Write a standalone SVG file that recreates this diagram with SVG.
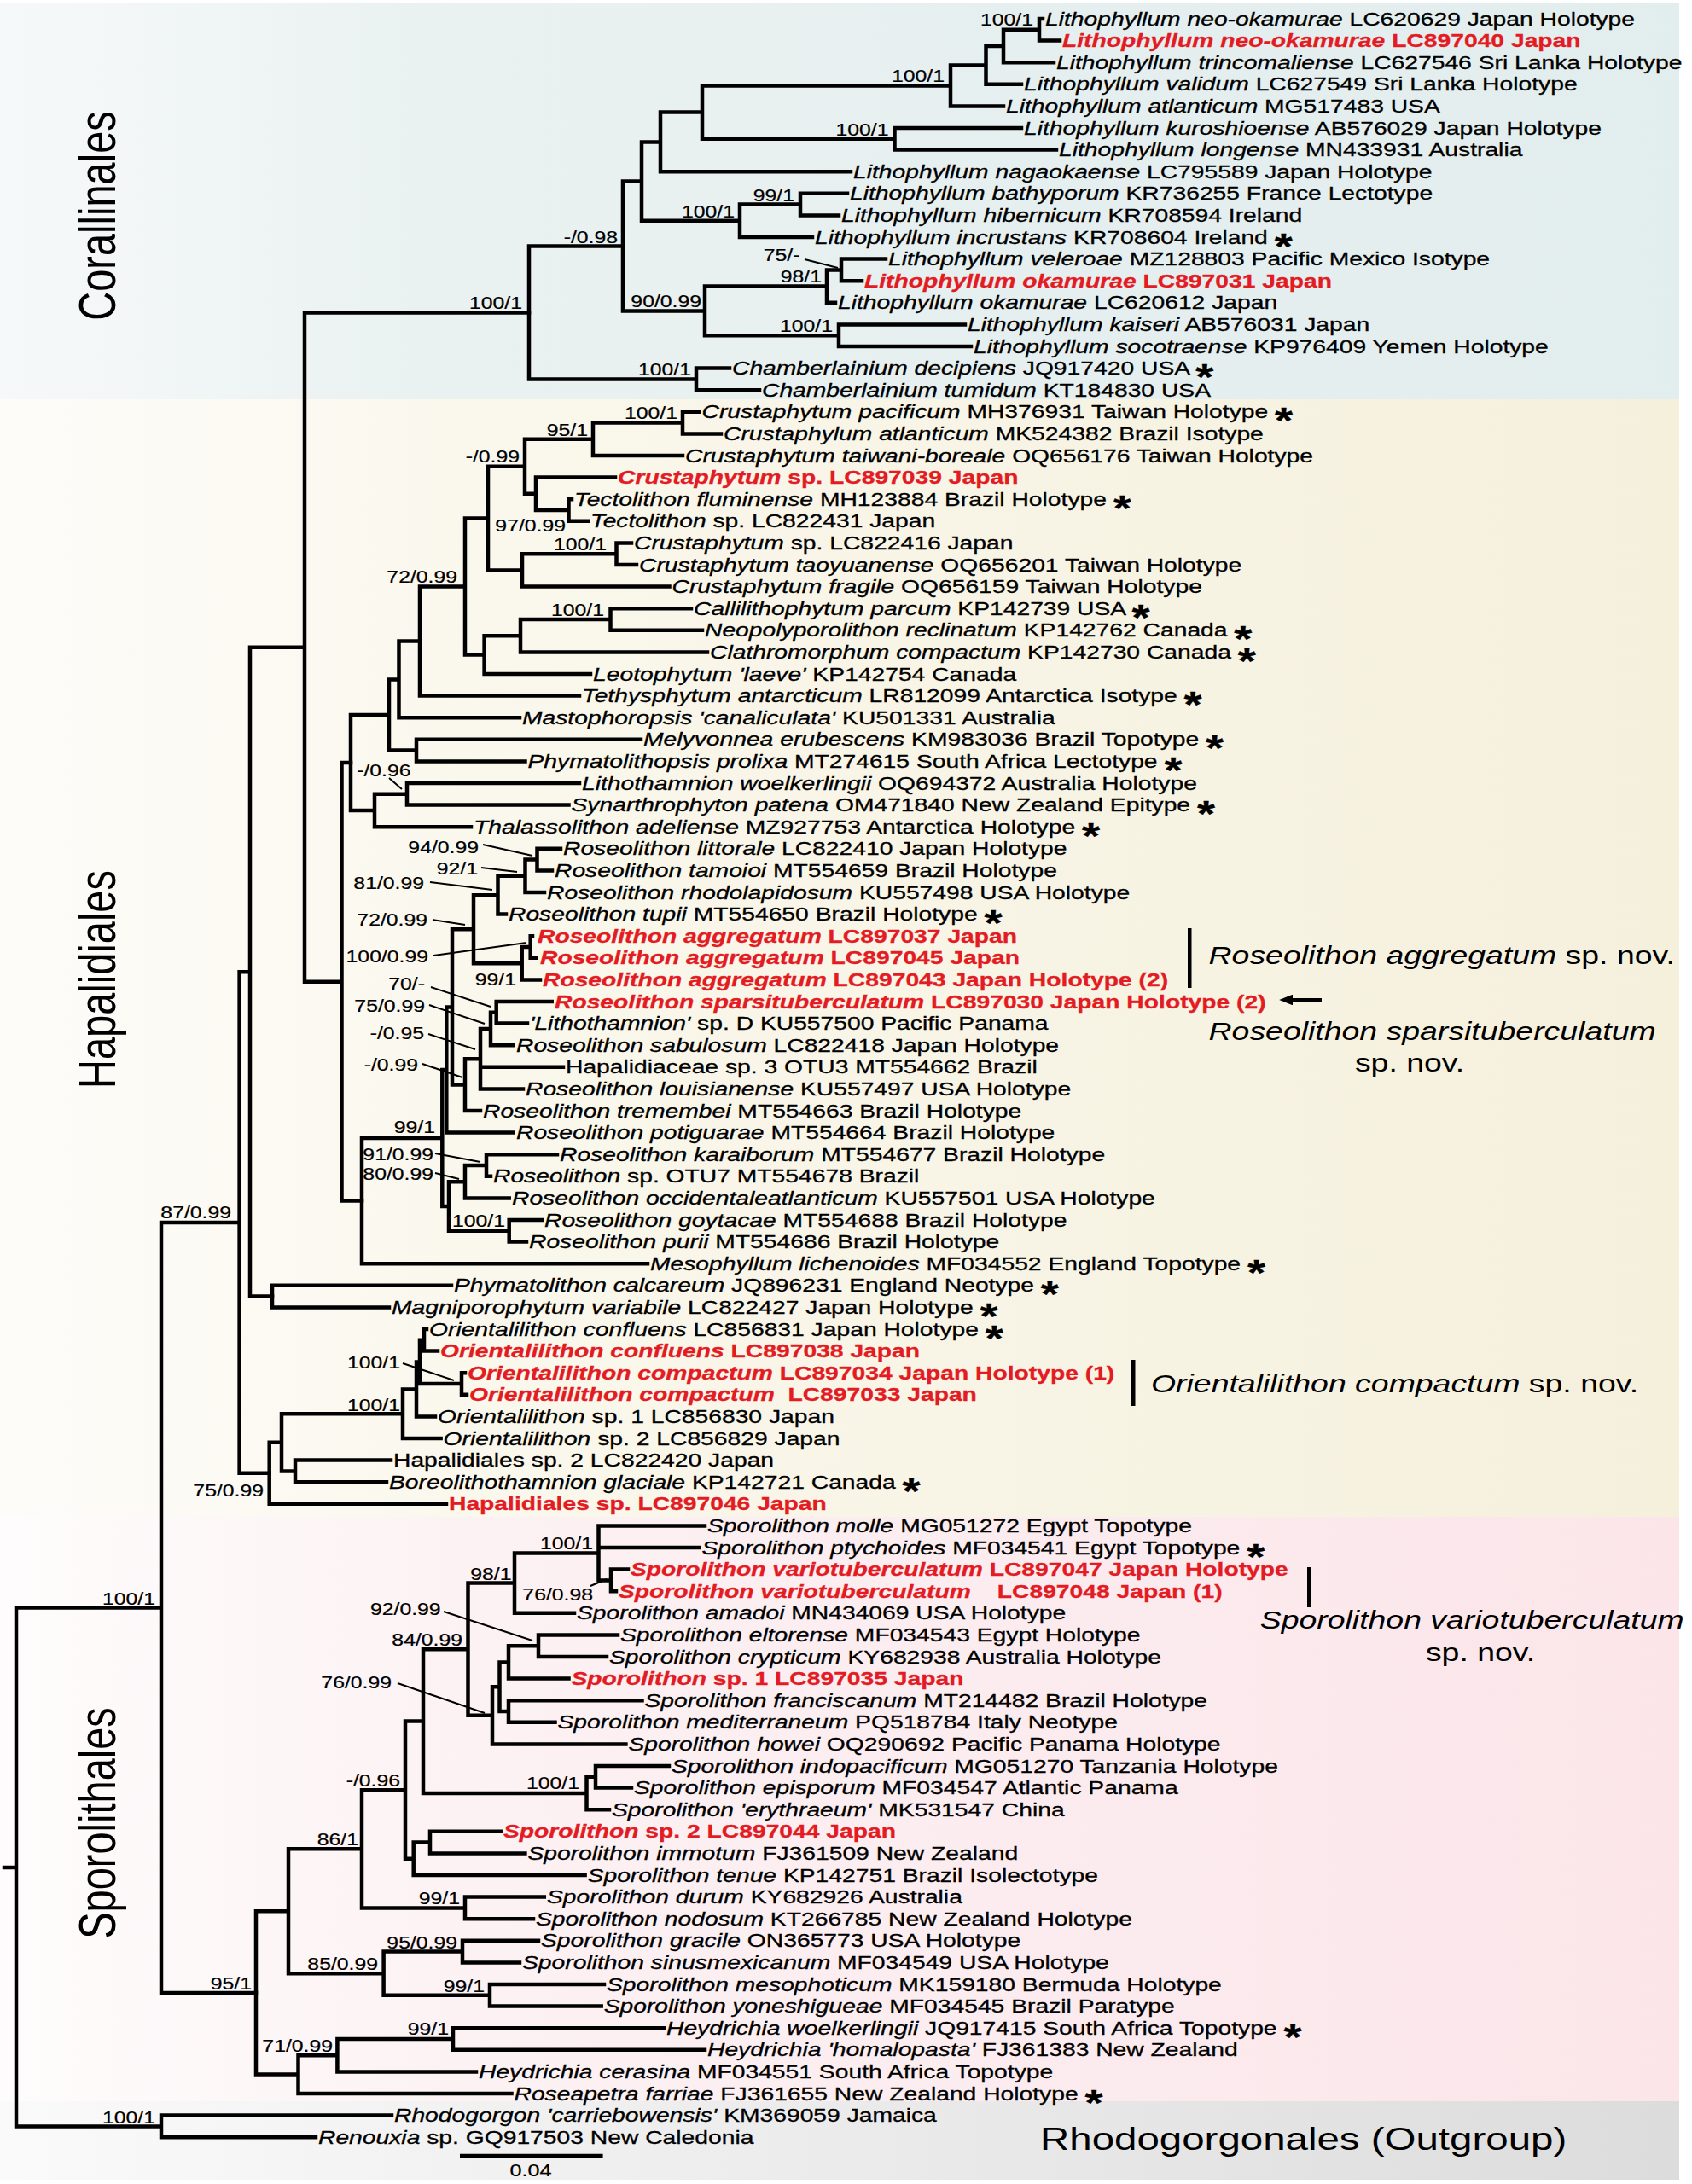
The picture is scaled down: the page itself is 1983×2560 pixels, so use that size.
<svg xmlns="http://www.w3.org/2000/svg" width="1983" height="2560" viewBox="0 0 1983 2560">
<style>
.t{font-family:"Liberation Sans",Arial,sans-serif;font-size:22px;fill:#000;stroke:#000;stroke-width:0.3}
.r{fill:#e31b23;stroke:#e31b23;font-weight:bold}
.i{font-style:italic}
.a{font-weight:bold;font-size:42px}
.s{font-family:"Liberation Sans",Arial,sans-serif;font-size:21px;fill:#000;stroke:#000;stroke-width:0.25;text-anchor:end}
.big{font-family:"Liberation Sans",Arial,sans-serif;fill:#000}
.br{fill:none;stroke:#000;stroke-width:4.5;stroke-linecap:square}
.ld{fill:none;stroke:#000;stroke-width:2}
</style>
<defs>
<linearGradient id="gC" x1="0" x2="1" y1="0" y2="0"><stop offset="0" stop-color="#f6f9f9"/><stop offset="0.25" stop-color="#eaf1f1"/><stop offset="1" stop-color="#e2eded"/></linearGradient>
<linearGradient id="gH" x1="0" x2="1" y1="0" y2="0"><stop offset="0" stop-color="#fdfcf9"/><stop offset="0.3" stop-color="#faf7ec"/><stop offset="1" stop-color="#f5f0dc"/></linearGradient>
<linearGradient id="gS" x1="0" x2="1" y1="0" y2="0"><stop offset="0" stop-color="#fefcfc"/><stop offset="0.3" stop-color="#fcf1f3"/><stop offset="1" stop-color="#fbe5e9"/></linearGradient>
<linearGradient id="gO" x1="0" x2="1" y1="0" y2="0"><stop offset="0" stop-color="#fafafa"/><stop offset="0.4" stop-color="#eeeeee"/><stop offset="1" stop-color="#dcdcdc"/></linearGradient>
<marker id="ah" viewBox="0 0 10 8" refX="2" refY="4" markerWidth="4" markerHeight="3.2" orient="auto" markerUnits="strokeWidth"><path d="M0,0 L10,4 L0,8 Z" fill="#000"/></marker>
</defs>
<rect width="1983" height="2560" fill="#fff"/>
<g id="backgrounds">
<rect x="0" y="4" width="1968" height="464" fill="url(#gC)"/>
<rect x="0" y="468" width="1968" height="1310" fill="url(#gH)"/>
<rect x="0" y="1778" width="1968" height="685" fill="url(#gS)"/>
<rect x="0" y="2463" width="1968" height="92" fill="url(#gO)"/>
</g>
<g id="connectors">
<path class="br" d="M620,288.5V444.4M620,288.5H730M620,444.4H816M816,431.6V457.2M816,431.6H855M816,457.2H890M730,212.6V364.4M730,212.6H752M730,364.4H826M752,166.4V258.8M752,166.4H774M752,258.8H867M774,131.6V201.2M774,131.6H823M774,201.2H997M823,100.4V162.8M823,100.4H1114M823,162.8H1048.5M1114,76.4V124.4M1114,76.4H1155.5M1114,124.4H1176M1155.5,54V98.8M1155.5,54H1176M1155.5,98.8H1197M1176,34.8V73.2M1176,34.8H1218M1176,73.2H1235M1218,22V47.6M1218,22H1222M1218,47.6H1242M1048.5,150V175.6M1048.5,150H1197M1048.5,175.6H1238M867,239.6V278M867,239.6H938M867,278H952M938,226.8V252.4M938,226.8H993M938,252.4H983M826,335.6V393.2M826,335.6H969M826,393.2H983M969,316.4V354.8M969,316.4H986M969,354.8H979M986,303.6V329.2M986,303.6H1038M986,329.2H1010M983,380.4V406M983,380.4H1131M983,406H1138"/>
<path class="br" d="M5,2189H19M19,1884.5V2492.4M19,1884.5H189M19,2492.4H189M189,2479.6V2505.2M189,2479.6H459M189,2505.2H370M189,1433V2336M189,1433H280.6M189,2336H300M280.6,1139.3V1726.8M280.6,1139.3H293M280.6,1726.8H315.7M293,758.7V1519.6M293,758.7H357M293,1519.6H319M357,366.5V1150.8M357,366.5H620M357,1150.8H400.5M400.5,894V1407.6M400.5,894H411M400.5,1407.6H424"/>
<path class="br" d="M411,838V950M411,838H456M411,950H439M456,796.4V879.6M456,796.4H467.5M456,879.6H488M467.5,751.6V841.2M467.5,751.6H492M467.5,841.2H609M492,687.6V815.6M492,687.6H545M492,815.6H679M545,607.6V767.6M545,607.6H572M545,767.6H567.6M572,546.8V668.4M572,546.8H615M572,668.4H612M615,514.8V578.8M615,514.8H695M615,578.8H628M695,495.6V534M695,495.6H800M695,534H800M800,482.8V508.4M800,482.8H819.5M800,508.4H845M628,559.6V598M628,559.6H721M628,598H666.5M666.5,585.2V610.8M666.5,585.2H670M666.5,610.8H689M612,649.2V687.6M612,649.2H722.5M612,687.6H784.5M722.5,636.4V662M722.5,636.4H740M722.5,662H746M567.6,745.2V790M567.6,745.2H610M567.6,790H692M610,726V764.4M610,726H715.5M610,764.4H829M715.5,713.2V738.8M715.5,713.2H810M715.5,738.8H823M488,866.8V892.4M488,866.8H751M488,892.4H615.5M439,930.8V969.2M439,930.8H477M439,969.2H552M477,918V943.6M477,918H679M477,943.6H666.5"/>
<path class="br" d="M424,1334V1481.2M424,1334H518.3M424,1481.2H759M518.3,1254V1414M518.3,1254H523.3M518.3,1414H526M523.3,1180.4V1327.6M523.3,1180.4H530M523.3,1327.6H601.7M530,1089.2V1271.6M530,1089.2H555M530,1271.6H545M555,1049.2V1129.2M555,1049.2H583.5M555,1129.2H611.7M583.5,1026.8V1071.6M583.5,1026.8H615.5M583.5,1071.6H593M615.5,1007.6V1046M615.5,1007.6H629.5M615.5,1046H638M629.5,994.8V1020.4M629.5,994.8H657M629.5,1020.4H647M611.7,1110V1148.4M611.7,1110H621.7M611.7,1148.4H633M621.7,1097.2V1122.8M621.7,1097.2H624M621.7,1122.8H628M545,1241.2V1302M545,1241.2H563M545,1302H563M563,1206V1276.4M563,1206H575M563,1250.8H660M563,1276.4H613M575,1186.8V1225.2M575,1186.8H581.7M575,1225.2H601.7M581.7,1174V1199.6M581.7,1174H646.7M581.7,1199.6H618M526,1385.2V1442.8M526,1385.2H545M526,1442.8H596.7M545,1366V1404.4M545,1366H570M545,1404.4H596.7M570,1353.2V1378.8M570,1353.2H653M570,1378.8H575M596.7,1430V1455.6M596.7,1430H635M596.7,1455.6H617"/>
<path class="br" d="M319,1506.8V1532.4M319,1506.8H529M319,1532.4H456M315.7,1690.8V1762.8M315.7,1690.8H330M315.7,1762.8H523M330,1657.2V1724.4M330,1657.2H472M330,1724.4H346M346,1711.6V1737.2M346,1711.6H458M346,1737.2H453M472,1628.4V1686M472,1628.4H488M472,1686H516.6M488,1596.4V1660.4M488,1596.4H492M488,1660.4H510M492,1570.8V1622M492,1570.8H497M492,1622H541M497,1558V1583.6M497,1558H500M497,1583.6H513M541,1609.2V1634.8M541,1609.2H545M541,1634.8H547"/>
<path class="br" d="M300,2240.3V2431.6M300,2240.3H338M300,2431.6H349.5M338,2167.3V2313.2M338,2167.3H424M338,2313.2H449.6M424,2098.2V2236.4M424,2098.2H475M424,2236.4H545M475,2017.6V2178.8M475,2017.6H496M475,2178.8H484.7M496,1933.2V2102M496,1933.2H548.5M496,2102H687.5M548.5,1855.6V2010.8M548.5,1855.6H603M548.5,2010.8H577M603,1820.4V1890.8M603,1820.4H701.5M603,1890.8H673M701.5,1788.4V1852.4M701.5,1788.4H826M701.5,1814H819.5M701.5,1852.4H716M716,1839.6V1865.2M716,1839.6H736M716,1865.2H722M577,1977.2V2044.4M577,1977.2H585.5M577,2044.4H733.4M585.5,1948.4V2006M585.5,1948.4H596M585.5,2006H596M596,1929.2V1967.6M596,1929.2H631M596,1967.6H666.5M631,1916.4V1942M631,1916.4H724M631,1942H711M596,1993.2V2018.8M596,1993.2H752.5M596,2018.8H650.5M687.5,2082.8V2121.2M687.5,2082.8H698M687.5,2121.2H714M698,2070V2095.6M698,2070H784M698,2095.6H740M484.7,2159.6V2198M484.7,2159.6H504M484.7,2198H685.6M504,2146.8V2172.4M504,2146.8H586.7M504,2172.4H615.4M545,2223.6V2249.2M545,2223.6H637.8M545,2249.2H625M449.6,2287.6V2338.8M449.6,2287.6H542M449.6,2338.8H574M542,2274.8V2300.4M542,2274.8H631M542,2300.4H609M574,2326V2351.6M574,2326H708M574,2351.6H704.7M349.5,2409.2V2454M349.5,2409.2H395.4M349.5,2454H599.5M395.4,2390V2428.4M395.4,2390H531M395.4,2428.4H558M531,2377.2V2402.8M531,2377.2H778M531,2402.8H826"/>
<path class="ld" d="M943,304L982,314M456,912L471,925M566,990L624,1003M564,1017L606,1022M504,1034L577,1043M507,1078L545,1084M508,1120L617,1105M505,1157L575,1180M503,1178L568,1200M502,1212L557,1230M495,1247L542,1263M510,1352L563,1362M510,1375L538,1382M472,1598L532,1618M692,1859L711,1851M520,1889L624,1923M466,1973L568,2008"/>
</g>
<g id="tips">
<g id="tip-1"><text class="t" transform="translate(1225,29.5) scale(1.285,1)"><tspan class="i">Lithophyllum neo-okamurae</tspan> LC620629 Japan Holotype</text></g>
<g id="tip-2"><text class="t r" transform="translate(1245,55.1) scale(1.285,1)"><tspan class="i">Lithophyllum neo-okamurae</tspan> LC897040 Japan</text></g>
<g id="tip-3"><text class="t" transform="translate(1238,80.7) scale(1.285,1)"><tspan class="i">Lithophyllum trincomaliense</tspan> LC627546 Sri Lanka Holotype</text></g>
<g id="tip-4"><text class="t" transform="translate(1200,106.3) scale(1.285,1)"><tspan class="i">Lithophyllum validum</tspan> LC627549 Sri Lanka Holotype</text></g>
<g id="tip-5"><text class="t" transform="translate(1179,131.9) scale(1.285,1)"><tspan class="i">Lithophyllum atlanticum</tspan> MG517483 USA</text></g>
<g id="tip-6"><text class="t" transform="translate(1200,157.5) scale(1.285,1)"><tspan class="i">Lithophyllum kuroshioense</tspan> AB576029 Japan Holotype</text></g>
<g id="tip-7"><text class="t" transform="translate(1241,183.1) scale(1.285,1)"><tspan class="i">Lithophyllum longense</tspan> MN433931 Australia</text></g>
<g id="tip-8"><text class="t" transform="translate(1000,208.7) scale(1.285,1)"><tspan class="i">Lithophyllum nagaokaense</tspan> LC795589 Japan Holotype</text></g>
<g id="tip-9"><text class="t" transform="translate(996,234.3) scale(1.285,1)"><tspan class="i">Lithophyllum bathyporum</tspan> KR736255 France Lectotype</text></g>
<g id="tip-10"><text class="t" transform="translate(986,259.9) scale(1.285,1)"><tspan class="i">Lithophyllum hibernicum</tspan> KR708594 Ireland</text></g>
<g id="tip-11"><text class="t" transform="translate(955,285.5) scale(1.285,1)"><tspan class="i">Lithophyllum incrustans</tspan> KR708604 Ireland <tspan class="a" dy="17">*</tspan></text></g>
<g id="tip-12"><text class="t" transform="translate(1041,311.1) scale(1.285,1)"><tspan class="i">Lithophyllum veleroae</tspan> MZ128803 Pacific Mexico Isotype</text></g>
<g id="tip-13"><text class="t r" transform="translate(1013,336.7) scale(1.285,1)"><tspan class="i">Lithophyllum okamurae</tspan> LC897031 Japan</text></g>
<g id="tip-14"><text class="t" transform="translate(982,362.3) scale(1.285,1)"><tspan class="i">Lithophyllum okamurae</tspan> LC620612 Japan</text></g>
<g id="tip-15"><text class="t" transform="translate(1134,387.9) scale(1.285,1)"><tspan class="i">Lithophyllum kaiseri</tspan> AB576031 Japan</text></g>
<g id="tip-16"><text class="t" transform="translate(1141,413.5) scale(1.285,1)"><tspan class="i">Lithophyllum socotraense</tspan> KP976409 Yemen Holotype</text></g>
<g id="tip-17"><text class="t" transform="translate(858,439.1) scale(1.285,1)"><tspan class="i">Chamberlainium decipiens</tspan> JQ917420 USA <tspan class="a" dy="17">*</tspan></text></g>
<g id="tip-18"><text class="t" transform="translate(893,464.7) scale(1.285,1)"><tspan class="i">Chamberlainium tumidum</tspan> KT184830 USA</text></g>
<g id="tip-19"><text class="t" transform="translate(822.5,490.3) scale(1.285,1)"><tspan class="i">Crustaphytum pacificum</tspan> MH376931 Taiwan Holotype <tspan class="a" dy="17">*</tspan></text></g>
<g id="tip-20"><text class="t" transform="translate(848,515.9) scale(1.285,1)"><tspan class="i">Crustaphylum atlanticum</tspan> MK524382 Brazil Isotype</text></g>
<g id="tip-21"><text class="t" transform="translate(803,541.5) scale(1.285,1)"><tspan class="i">Crustaphytum taiwani-boreale</tspan> OQ656176 Taiwan Holotype</text></g>
<g id="tip-22"><text class="t r" transform="translate(724,567.1) scale(1.285,1)"><tspan class="i">Crustaphytum</tspan> sp. LC897039 Japan</text></g>
<g id="tip-23"><text class="t" transform="translate(673,592.7) scale(1.285,1)"><tspan class="i">Tectolithon fluminense</tspan> MH123884 Brazil Holotype <tspan class="a" dy="17">*</tspan></text></g>
<g id="tip-24"><text class="t" transform="translate(692,618.3) scale(1.285,1)"><tspan class="i">Tectolithon</tspan> sp. LC822431 Japan</text></g>
<g id="tip-25"><text class="t" transform="translate(743,643.9) scale(1.285,1)"><tspan class="i">Crustaphytum</tspan> sp. LC822416 Japan</text></g>
<g id="tip-26"><text class="t" transform="translate(749,669.5) scale(1.285,1)"><tspan class="i">Crustaphytum taoyuanense</tspan> OQ656201 Taiwan Holotype</text></g>
<g id="tip-27"><text class="t" transform="translate(787.5,695.1) scale(1.285,1)"><tspan class="i">Crustaphytum fragile</tspan> OQ656159 Taiwan Holotype</text></g>
<g id="tip-28"><text class="t" transform="translate(813,720.7) scale(1.285,1)"><tspan class="i">Callilithophytum parcum</tspan> KP142739 USA <tspan class="a" dy="17">*</tspan></text></g>
<g id="tip-29"><text class="t" transform="translate(826,746.3) scale(1.285,1)"><tspan class="i">Neopolyporolithon reclinatum</tspan> KP142762 Canada <tspan class="a" dy="17">*</tspan></text></g>
<g id="tip-30"><text class="t" transform="translate(832,771.9) scale(1.285,1)"><tspan class="i">Clathromorphum compactum</tspan> KP142730 Canada <tspan class="a" dy="17">*</tspan></text></g>
<g id="tip-31"><text class="t" transform="translate(695,797.5) scale(1.285,1)"><tspan class="i">Leotophytum 'laeve'</tspan> KP142754 Canada</text></g>
<g id="tip-32"><text class="t" transform="translate(682,823.1) scale(1.285,1)"><tspan class="i">Tethysphytum antarcticum</tspan> LR812099 Antarctica Isotype <tspan class="a" dy="17">*</tspan></text></g>
<g id="tip-33"><text class="t" transform="translate(612,848.7) scale(1.285,1)"><tspan class="i">Mastophoropsis 'canaliculata'</tspan> KU501331 Australia</text></g>
<g id="tip-34"><text class="t" transform="translate(754,874.3) scale(1.285,1)"><tspan class="i">Melyvonnea erubescens</tspan> KM983036 Brazil Topotype <tspan class="a" dy="17">*</tspan></text></g>
<g id="tip-35"><text class="t" transform="translate(618.5,899.9) scale(1.285,1)"><tspan class="i">Phymatolithopsis prolixa</tspan> MT274615 South Africa Lectotype <tspan class="a" dy="17">*</tspan></text></g>
<g id="tip-36"><text class="t" transform="translate(682,925.5) scale(1.285,1)"><tspan class="i">Lithothamnion woelkerlingii</tspan> OQ694372 Australia Holotype</text></g>
<g id="tip-37"><text class="t" transform="translate(669.5,951.1) scale(1.285,1)"><tspan class="i">Synarthrophyton patena</tspan> OM471840 New Zealand Epitype <tspan class="a" dy="17">*</tspan></text></g>
<g id="tip-38"><text class="t" transform="translate(555,976.7) scale(1.285,1)"><tspan class="i">Thalassolithon adeliense</tspan> MZ927753 Antarctica Holotype <tspan class="a" dy="17">*</tspan></text></g>
<g id="tip-39"><text class="t" transform="translate(660,1002.3) scale(1.285,1)"><tspan class="i">Roseolithon littorale</tspan> LC822410 Japan Holotype</text></g>
<g id="tip-40"><text class="t" transform="translate(650,1027.9) scale(1.285,1)"><tspan class="i">Roseolithon tamoioi</tspan> MT554659 Brazil Holotype</text></g>
<g id="tip-41"><text class="t" transform="translate(641,1053.5) scale(1.285,1)"><tspan class="i">Roseolithon rhodolapidosum</tspan> KU557498 USA Holotype</text></g>
<g id="tip-42"><text class="t" transform="translate(596,1079.1) scale(1.285,1)"><tspan class="i">Roseolithon tupii</tspan> MT554650 Brazil Holotype <tspan class="a" dy="17">*</tspan></text></g>
<g id="tip-43"><text class="t r" transform="translate(630,1104.7) scale(1.285,1)"><tspan class="i">Roseolithon aggregatum</tspan> LC897037 Japan</text></g>
<g id="tip-44"><text class="t r" transform="translate(633,1130.3) scale(1.285,1)"><tspan class="i">Roseolithon aggregatum</tspan> LC897045 Japan</text></g>
<g id="tip-45"><text class="t r" transform="translate(636,1155.9) scale(1.285,1)"><tspan class="i">Roseolithon aggregatum</tspan> LC897043 Japan Holotype (2)</text></g>
<g id="tip-46"><text class="t r" transform="translate(650,1181.5) scale(1.285,1)"><tspan class="i">Roseolithon sparsituberculatum</tspan> LC897030 Japan Holotype (2)</text></g>
<g id="tip-47"><text class="t" transform="translate(621,1207.1) scale(1.285,1)"><tspan class="i">'Lithothamnion'</tspan> sp. D KU557500 Pacific Panama</text></g>
<g id="tip-48"><text class="t" transform="translate(605,1232.7) scale(1.285,1)"><tspan class="i">Roseolithon sabulosum</tspan> LC822418 Japan Holotype</text></g>
<g id="tip-49"><text class="t" transform="translate(663,1258.3) scale(1.285,1)">Hapalidiaceae sp. 3 OTU3 MT554662 Brazil</text></g>
<g id="tip-50"><text class="t" transform="translate(616,1283.9) scale(1.285,1)"><tspan class="i">Roseolithon louisianense</tspan> KU557497 USA Holotype</text></g>
<g id="tip-51"><text class="t" transform="translate(566,1309.5) scale(1.285,1)"><tspan class="i">Roseolithon tremembei</tspan> MT554663 Brazil Holotype</text></g>
<g id="tip-52"><text class="t" transform="translate(605,1335.1) scale(1.285,1)"><tspan class="i">Roseolithon potiguarae</tspan> MT554664 Brazil Holotype</text></g>
<g id="tip-53"><text class="t" transform="translate(656,1360.7) scale(1.285,1)"><tspan class="i">Roseolithon karaiborum</tspan> MT554677 Brazil Holotype</text></g>
<g id="tip-54"><text class="t" transform="translate(578,1386.3) scale(1.285,1)"><tspan class="i">Roseolithon</tspan> sp. OTU7 MT554678 Brazil</text></g>
<g id="tip-55"><text class="t" transform="translate(600,1411.9) scale(1.285,1)"><tspan class="i">Roseolithon occidentaleatlanticum</tspan> KU557501 USA Holotype</text></g>
<g id="tip-56"><text class="t" transform="translate(638,1437.5) scale(1.285,1)"><tspan class="i">Roseolithon goytacae</tspan> MT554688 Brazil Holotype</text></g>
<g id="tip-57"><text class="t" transform="translate(620,1463.1) scale(1.285,1)"><tspan class="i">Roseolithon purii</tspan> MT554686 Brazil Holotype</text></g>
<g id="tip-58"><text class="t" transform="translate(762,1488.7) scale(1.285,1)"><tspan class="i">Mesophyllum lichenoides</tspan> MF034552 England Topotype <tspan class="a" dy="17">*</tspan></text></g>
<g id="tip-59"><text class="t" transform="translate(532,1514.3) scale(1.285,1)"><tspan class="i">Phymatolithon calcareum</tspan> JQ896231 England Neotype <tspan class="a" dy="17">*</tspan></text></g>
<g id="tip-60"><text class="t" transform="translate(459,1539.9) scale(1.285,1)"><tspan class="i">Magniporophytum variabile</tspan> LC822427 Japan Holotype <tspan class="a" dy="17">*</tspan></text></g>
<g id="tip-61"><text class="t" transform="translate(503,1565.5) scale(1.285,1)"><tspan class="i">Orientalilithon confluens</tspan> LC856831 Japan Holotype <tspan class="a" dy="17">*</tspan></text></g>
<g id="tip-62"><text class="t r" transform="translate(516,1591.1) scale(1.285,1)"><tspan class="i">Orientalilithon confluens</tspan> LC897038 Japan</text></g>
<g id="tip-63"><text class="t r" transform="translate(548,1616.7) scale(1.285,1)"><tspan class="i">Orientalilithon compactum</tspan> LC897034 Japan Holotype (1)</text></g>
<g id="tip-64"><text class="t r" transform="translate(550,1642.3) scale(1.285,1)"><tspan class="i">Orientalilithon compactum</tspan><tspan dx="6"> LC897033 Japan</tspan></text></g>
<g id="tip-65"><text class="t" transform="translate(513,1667.9) scale(1.285,1)"><tspan class="i">Orientalilithon</tspan> sp. 1 LC856830 Japan</text></g>
<g id="tip-66"><text class="t" transform="translate(519.6,1693.5) scale(1.285,1)"><tspan class="i">Orientalilithon</tspan> sp. 2 LC856829 Japan</text></g>
<g id="tip-67"><text class="t" transform="translate(461,1719.1) scale(1.285,1)">Hapalidiales sp. 2 LC822420 Japan</text></g>
<g id="tip-68"><text class="t" transform="translate(456,1744.7) scale(1.285,1)"><tspan class="i">Boreolithothamnion glaciale</tspan> KP142721 Canada <tspan class="a" dy="17">*</tspan></text></g>
<g id="tip-69"><text class="t r" transform="translate(526,1770.3) scale(1.285,1)">Hapalidiales sp. LC897046 Japan</text></g>
<g id="tip-70"><text class="t" transform="translate(829,1795.9) scale(1.285,1)"><tspan class="i">Sporolithon molle</tspan> MG051272 Egypt Topotype</text></g>
<g id="tip-71"><text class="t" transform="translate(822.5,1821.5) scale(1.285,1)"><tspan class="i">Sporolithon ptychoides</tspan> MF034541 Egypt Topotype <tspan class="a" dy="17">*</tspan></text></g>
<g id="tip-72"><text class="t r" transform="translate(739,1847.1) scale(1.285,1)"><tspan class="i">Sporolithon variotuberculatum</tspan> LC897047 Japan Holotype</text></g>
<g id="tip-73"><text class="t r" transform="translate(725,1872.7) scale(1.285,1)"><tspan class="i">Sporolithon variotuberculatum</tspan><tspan dx="18"> LC897048 Japan (1)</tspan></text></g>
<g id="tip-74"><text class="t" transform="translate(676,1898.3) scale(1.285,1)"><tspan class="i">Sporolithon amadoi</tspan> MN434069 USA Holotype</text></g>
<g id="tip-75"><text class="t" transform="translate(727,1923.9) scale(1.285,1)"><tspan class="i">Sporolithon eltorense</tspan> MF034543 Egypt Holotype</text></g>
<g id="tip-76"><text class="t" transform="translate(714,1949.5) scale(1.285,1)"><tspan class="i">Sporolithon crypticum</tspan> KY682938 Australia Holotype</text></g>
<g id="tip-77"><text class="t r" transform="translate(669.5,1975.1) scale(1.285,1)"><tspan class="i">Sporolithon</tspan> sp. 1 LC897035 Japan</text></g>
<g id="tip-78"><text class="t" transform="translate(755.5,2000.7) scale(1.285,1)"><tspan class="i">Sporolithon franciscanum</tspan> MT214482 Brazil Holotype</text></g>
<g id="tip-79"><text class="t" transform="translate(653.5,2026.3) scale(1.285,1)"><tspan class="i">Sporolithon mediterraneum</tspan> PQ518784 Italy Neotype</text></g>
<g id="tip-80"><text class="t" transform="translate(736.4,2051.9) scale(1.285,1)"><tspan class="i">Sporolithon howei</tspan> OQ290692 Pacific Panama Holotype</text></g>
<g id="tip-81"><text class="t" transform="translate(787,2077.5) scale(1.285,1)"><tspan class="i">Sporolithon indopacificum</tspan> MG051270 Tanzania Holotype</text></g>
<g id="tip-82"><text class="t" transform="translate(743,2103.1) scale(1.285,1)"><tspan class="i">Sporolithon episporum</tspan> MF034547 Atlantic Panama</text></g>
<g id="tip-83"><text class="t" transform="translate(717,2128.7) scale(1.285,1)"><tspan class="i">Sporolithon 'erythraeum'</tspan> MK531547 China</text></g>
<g id="tip-84"><text class="t r" transform="translate(590,2154.3) scale(1.285,1)"><tspan class="i">Sporolithon</tspan> sp. 2 LC897044 Japan</text></g>
<g id="tip-85"><text class="t" transform="translate(618.4,2179.9) scale(1.285,1)"><tspan class="i">Sporolithon immotum</tspan> FJ361509 New Zealand</text></g>
<g id="tip-86"><text class="t" transform="translate(688.6,2205.5) scale(1.285,1)"><tspan class="i">Sporolithon tenue</tspan> KP142751 Brazil Isolectotype</text></g>
<g id="tip-87"><text class="t" transform="translate(641,2231.1) scale(1.285,1)"><tspan class="i">Sporolithon durum</tspan> KY682926 Australia</text></g>
<g id="tip-88"><text class="t" transform="translate(628,2256.7) scale(1.285,1)"><tspan class="i">Sporolithon nodosum</tspan> KT266785 New Zealand Holotype</text></g>
<g id="tip-89"><text class="t" transform="translate(634,2282.3) scale(1.285,1)"><tspan class="i">Sporolithon gracile</tspan> ON365773 USA Holotype</text></g>
<g id="tip-90"><text class="t" transform="translate(612,2307.9) scale(1.285,1)"><tspan class="i">Sporolithon sinusmexicanum</tspan> MF034549 USA Holotype</text></g>
<g id="tip-91"><text class="t" transform="translate(711,2333.5) scale(1.285,1)"><tspan class="i">Sporolithon mesophoticum</tspan> MK159180 Bermuda Holotype</text></g>
<g id="tip-92"><text class="t" transform="translate(707.7,2359.1) scale(1.285,1)"><tspan class="i">Sporolithon yoneshigueae</tspan> MF034545 Brazil Paratype</text></g>
<g id="tip-93"><text class="t" transform="translate(781,2384.7) scale(1.285,1)"><tspan class="i">Heydrichia woelkerlingii</tspan> JQ917415 South Africa Topotype <tspan class="a" dy="17">*</tspan></text></g>
<g id="tip-94"><text class="t" transform="translate(829,2410.3) scale(1.285,1)"><tspan class="i">Heydrichia 'homalopasta'</tspan> FJ361383 New Zealand</text></g>
<g id="tip-95"><text class="t" transform="translate(561,2435.9) scale(1.285,1)"><tspan class="i">Heydrichia cerasina</tspan> MF034551 South Africa Topotype</text></g>
<g id="tip-96"><text class="t" transform="translate(602.5,2461.5) scale(1.285,1)"><tspan class="i">Roseapetra farriae</tspan> FJ361655 New Zealand Holotype <tspan class="a" dy="17">*</tspan></text></g>
<g id="tip-97"><text class="t" transform="translate(462,2487.1) scale(1.285,1)"><tspan class="i">Rhodogorgon 'carriebowensis'</tspan> KM369059 Jamaica</text></g>
<g id="tip-98"><text class="t" transform="translate(373,2512.7) scale(1.285,1)"><tspan class="i">Renouxia</tspan> sp. GQ917503 New Caledonia</text></g>
</g>
<g id="support-values">
<text class="s" transform="translate(1211,30) scale(1.18,1)">100/1</text>
<text class="s" transform="translate(1107,96) scale(1.18,1)">100/1</text>
<text class="s" transform="translate(1041.5,158.5) scale(1.18,1)">100/1</text>
<text class="s" transform="translate(931,236) scale(1.18,1)">99/1</text>
<text class="s" transform="translate(861,255) scale(1.18,1)">100/1</text>
<text class="s" transform="translate(724,284.5) scale(1.18,1)">-/0.98</text>
<text class="s" transform="translate(937.5,306) scale(1.18,1)">75/-</text>
<text class="s" transform="translate(963,331) scale(1.18,1)">98/1</text>
<text class="s" transform="translate(822,360) scale(1.18,1)">90/0.99</text>
<text class="s" transform="translate(976,389) scale(1.18,1)">100/1</text>
<text class="s" transform="translate(612,362) scale(1.18,1)">100/1</text>
<text class="s" transform="translate(810,440) scale(1.18,1)">100/1</text>
<text class="s" transform="translate(794,491) scale(1.18,1)">100/1</text>
<text class="s" transform="translate(689,511) scale(1.18,1)">95/1</text>
<text class="s" transform="translate(609,542) scale(1.18,1)">-/0.99</text>
<text class="s" transform="translate(663,623) scale(1.18,1)">97/0.99</text>
<text class="s" transform="translate(711,645) scale(1.18,1)">100/1</text>
<text class="s" transform="translate(536,683) scale(1.18,1)">72/0.99</text>
<text class="s" transform="translate(708,722) scale(1.18,1)">100/1</text>
<text class="s" transform="translate(481.5,910) scale(1.18,1)">-/0.96</text>
<text class="s" transform="translate(561,1000) scale(1.18,1)">94/0.99</text>
<text class="s" transform="translate(560,1025) scale(1.18,1)">92/1</text>
<text class="s" transform="translate(497,1042) scale(1.18,1)">81/0.99</text>
<text class="s" transform="translate(501,1085) scale(1.18,1)">72/0.99</text>
<text class="s" transform="translate(502,1128) scale(1.18,1)">100/0.99</text>
<text class="s" transform="translate(605,1155) scale(1.18,1)">99/1</text>
<text class="s" transform="translate(498,1160) scale(1.18,1)">70/-</text>
<text class="s" transform="translate(498,1186) scale(1.18,1)">75/0.99</text>
<text class="s" transform="translate(497,1218) scale(1.18,1)">-/0.95</text>
<text class="s" transform="translate(490,1255) scale(1.18,1)">-/0.99</text>
<text class="s" transform="translate(510,1328) scale(1.18,1)">99/1</text>
<text class="s" transform="translate(508,1360) scale(1.18,1)">91/0.99</text>
<text class="s" transform="translate(508,1383) scale(1.18,1)">80/0.99</text>
<text class="s" transform="translate(592,1438) scale(1.18,1)">100/1</text>
<text class="s" transform="translate(271,1428) scale(1.18,1)">87/0.99</text>
<text class="s" transform="translate(469,1604) scale(1.18,1)">100/1</text>
<text class="s" transform="translate(469,1654) scale(1.18,1)">100/1</text>
<text class="s" transform="translate(309,1754) scale(1.18,1)">75/0.99</text>
<text class="s" transform="translate(182,1881) scale(1.18,1)">100/1</text>
<text class="s" transform="translate(695,1816) scale(1.18,1)">100/1</text>
<text class="s" transform="translate(695,1876) scale(1.18,1)">76/0.98</text>
<text class="s" transform="translate(599.5,1852) scale(1.18,1)">98/1</text>
<text class="s" transform="translate(516.6,1893) scale(1.18,1)">92/0.99</text>
<text class="s" transform="translate(542,1929) scale(1.18,1)">84/0.99</text>
<text class="s" transform="translate(459,1979) scale(1.18,1)">76/0.99</text>
<text class="s" transform="translate(679,2097) scale(1.18,1)">100/1</text>
<text class="s" transform="translate(469,2094) scale(1.18,1)">-/0.96</text>
<text class="s" transform="translate(420,2163) scale(1.18,1)">86/1</text>
<text class="s" transform="translate(539,2232) scale(1.18,1)">99/1</text>
<text class="s" transform="translate(536,2284) scale(1.18,1)">95/0.99</text>
<text class="s" transform="translate(443,2309) scale(1.18,1)">85/0.99</text>
<text class="s" transform="translate(568,2335) scale(1.18,1)">99/1</text>
<text class="s" transform="translate(295,2332) scale(1.18,1)">95/1</text>
<text class="s" transform="translate(526,2385) scale(1.18,1)">99/1</text>
<text class="s" transform="translate(390,2405) scale(1.18,1)">71/0.99</text>
<text class="s" transform="translate(182,2489) scale(1.18,1)">100/1</text>
</g>
<g id="clade-labels">
<text class="big" font-size="47" text-anchor="middle" transform="translate(135,253) scale(1.29,1) rotate(-90)">Corallinales</text>
<text class="big" font-size="47" text-anchor="middle" transform="translate(135,1148) scale(1.29,1) rotate(-90)">Hapalidiales</text>
<text class="big" font-size="47" text-anchor="middle" transform="translate(135,2137) scale(1.29,1) rotate(-90)">Sporolithales</text>
<text class="big" font-size="36.5" transform="translate(1219,2520) scale(1.3,1)">Rhodogorgonales (Outgroup)</text>
</g>
<g id="species-notes">
<rect x="1392" y="1088" width="4.5" height="70" fill="#000"/>
<text class="big" font-size="29" transform="translate(1416.6,1130) scale(1.29,1)"><tspan font-style="italic">Roseolithon aggregatum</tspan> sp. nov.</text>
<path d="M1549,1172H1512" stroke="#000" stroke-width="4" marker-end="url(#ah)"/>
<text class="big" font-size="29" transform="translate(1416.6,1219) scale(1.29,1)"><tspan font-style="italic">Roseolithon sparsituberculatum</tspan></text>
<text class="big" font-size="29" text-anchor="middle" transform="translate(1652,1256) scale(1.29,1)">sp. nov.</text>
<rect x="1326" y="1594" width="4.5" height="54" fill="#000"/>
<text class="big" font-size="29" transform="translate(1349,1632) scale(1.29,1)"><tspan font-style="italic">Orientalilithon compactum</tspan> sp. nov.</text>
<rect x="1532" y="1837" width="4.5" height="47" fill="#000"/>
<text class="big" font-size="29" transform="translate(1476.7,1909) scale(1.29,1)"><tspan font-style="italic">Sporolithon variotuberculatum</tspan></text>
<text class="big" font-size="29" text-anchor="middle" transform="translate(1735,1947) scale(1.29,1)">sp. nov.</text>
</g>
<g id="scale-bar">
<path d="M539,2527H706.6" stroke="#000" stroke-width="4.5"/>
<text class="s" style="text-anchor:middle" transform="translate(622,2551) scale(1.2,1)">0.04</text>
</g>
</svg>
